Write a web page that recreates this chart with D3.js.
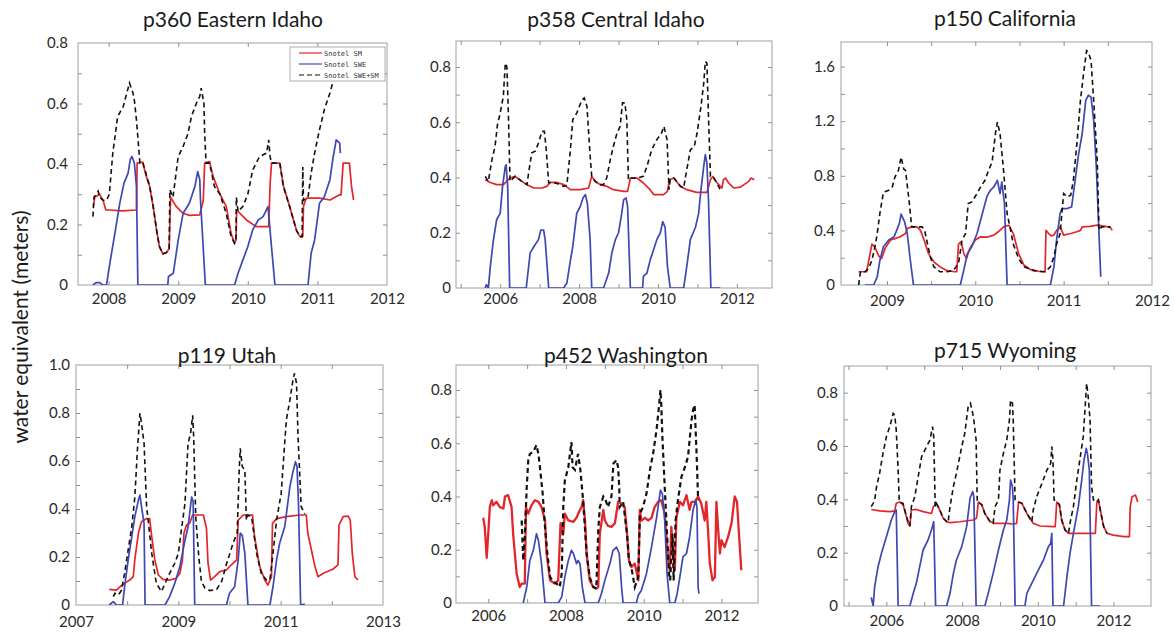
<!DOCTYPE html>
<html><head><meta charset="utf-8">
<script src="https://cdn.jsdelivr.net/npm/d3@7"></script>
<style>body{margin:0;background:#fff;}svg{display:block;font-family:Lato,"Open Sans",sans-serif;}</style>
</head><body><svg id="c" width="1174" height="633"></svg>
<script>
// ---------------- DATA ----------------
const seriesNames = ["Snotel SM", "Snotel SWE", "Snotel SWE+SM"];
const yAxisTitle = "water equivalent (meters)";
const titles = ["p360 Eastern Idaho", "p358 Central Idaho", "p150 California", "p119 Utah", "p452 Washington", "p715 Wyoming"];

const p360_xTicks = [2008, 2009, 2010, 2011, 2012];
const p360_yTicks = [0, 0.2, 0.4, 0.6, 0.8];
const p360_xDomain = [2007.56, 2012];
const p360_yDomain = [0, 0.8];
const p360_sm = [[2007.78,0.26],[2007.80,0.29],[2007.87,0.30],[2007.92,0.28],[2007.96,0.248],[2008.01,0.248],[2008.20,0.245],[2008.40,0.248],[2008.41,0.403],[2008.49,0.406],[2008.54,0.36],[2008.59,0.326],[2008.64,0.26],[2008.69,0.18],[2008.73,0.127],[2008.78,0.103],[2008.83,0.107],[2008.87,0.12],[2008.89,0.29],[2008.97,0.26],[2009.07,0.237],[2009.16,0.23],[2009.31,0.232],[2009.36,0.28],[2009.38,0.403],[2009.45,0.408],[2009.50,0.36],[2009.60,0.30],[2009.69,0.26],[2009.76,0.17],[2009.81,0.138],[2009.83,0.149],[2009.84,0.248],[2009.98,0.215],[2010.12,0.193],[2010.30,0.193],[2010.32,0.33],[2010.34,0.403],[2010.46,0.403],[2010.51,0.33],[2010.60,0.26],[2010.70,0.18],[2010.75,0.16],[2010.79,0.16],[2010.80,0.26],[2010.84,0.287],[2011.03,0.287],[2011.18,0.281],[2011.32,0.298],[2011.34,0.298],[2011.37,0.403],[2011.46,0.403],[2011.49,0.326],[2011.52,0.281]];
const p360_swe = [[2007.775,0],[2007.82,0.008],[2007.87,0.008],[2007.92,0],[2007.97,0],[2008.01,0.061],[2008.09,0.171],[2008.16,0.27],[2008.22,0.336],[2008.28,0.37],[2008.31,0.414],[2008.335,0.425],[2008.37,0.403],[2008.40,0.325],[2008.42,0],[2008.85,0],[2008.86,0.028],[2008.93,0.039],[2009.0,0.149],[2009.07,0.237],[2009.16,0.27],[2009.24,0.326],[2009.28,0.375],[2009.31,0.348],[2009.32,0.281],[2009.39,0],[2009.81,0],[2009.86,0.039],[2009.93,0.083],[2010.0,0.127],[2010.07,0.182],[2010.15,0.215],[2010.22,0.226],[2010.29,0.259],[2010.34,0.127],[2010.39,0],[2010.865,0],[2010.91,0.105],[2010.96,0.149],[2011.03,0.27],[2011.10,0.292],[2011.18,0.348],[2011.22,0.414],[2011.27,0.48],[2011.32,0.469],[2011.33,0.436]];
const p360_total = [[2007.775,0.226],[2007.79,0.29],[2007.82,0.30],[2007.85,0.31],[2007.87,0.29],[2007.92,0.28],[2007.97,0.28],[2008.01,0.30],[2008.06,0.436],[2008.13,0.557],[2008.21,0.59],[2008.30,0.668],[2008.35,0.635],[2008.37,0.61],[2008.40,0.546],[2008.45,0.403],[2008.49,0.406],[2008.59,0.326],[2008.64,0.26],[2008.69,0.18],[2008.73,0.127],[2008.78,0.103],[2008.83,0.107],[2008.87,0.12],[2008.88,0.315],[2008.925,0.29],[2009.0,0.425],[2009.07,0.458],[2009.14,0.50],[2009.19,0.557],[2009.26,0.60],[2009.31,0.624],[2009.33,0.651],[2009.37,0.60],[2009.38,0.50],[2009.40,0.403],[2009.45,0.403],[2009.52,0.326],[2009.60,0.30],[2009.69,0.237],[2009.76,0.16],[2009.81,0.138],[2009.83,0.149],[2009.835,0.29],[2009.86,0.243],[2009.93,0.26],[2010.0,0.30],[2010.07,0.38],[2010.17,0.425],[2010.27,0.436],[2010.30,0.48],[2010.32,0.425],[2010.34,0.403],[2010.46,0.403],[2010.51,0.326],[2010.60,0.26],[2010.70,0.18],[2010.75,0.16],[2010.78,0.16],[2010.79,0.39],[2010.80,0.28],[2010.865,0.29],[2010.91,0.37],[2010.96,0.436],[2011.03,0.513],[2011.10,0.58],[2011.18,0.635],[2011.22,0.668],[2011.27,0.72],[2011.32,0.78]];

const p358_xTicks = [2006, 2008, 2010, 2012];
const p358_yTicks = [0, 0.2, 0.4, 0.6, 0.8];
const p358_xDomain = [2004.88, 2012.89];
const p358_yDomain = [0, 0.894];
const p358_sm = [[2005.62,0.392],[2005.75,0.382],[2005.91,0.374],[2006.08,0.374],[2006.25,0.398],[2006.38,0.404],[2006.55,0.386],[2006.68,0.374],[2006.85,0.362],[2007.06,0.362],[2007.18,0.368],[2007.27,0.382],[2007.44,0.382],[2007.61,0.374],[2007.78,0.356],[2008.03,0.356],[2008.24,0.362],[2008.32,0.404],[2008.41,0.386],[2008.54,0.374],[2008.70,0.368],[2008.87,0.356],[2009.13,0.35],[2009.23,0.35],[2009.30,0.398],[2009.47,0.398],[2009.63,0.38],[2009.80,0.356],[2009.89,0.338],[2010.14,0.338],[2010.24,0.35],[2010.29,0.392],[2010.40,0.398],[2010.57,0.368],[2010.73,0.356],[2010.98,0.346],[2011.24,0.346],[2011.33,0.392],[2011.39,0.404],[2011.49,0.382],[2011.62,0.362],[2011.66,0.392],[2011.71,0.398],[2011.79,0.38],[2011.92,0.362],[2012.09,0.365],[2012.30,0.386],[2012.36,0.398],[2012.44,0.392]];
const p358_swe = [[2005.62,0],[2005.65,0.012],[2005.70,0],[2005.75,0.078],[2005.83,0.175],[2005.91,0.247],[2006.0,0.27],[2006.06,0.368],[2006.13,0.44],[2006.15,0.446],[2006.19,0.368],[2006.24,0],[2006.66,0],[2006.76,0.127],[2006.86,0.151],[2006.97,0.175],[2007.03,0.21],[2007.10,0.21],[2007.14,0.175],[2007.23,0],[2007.61,0],[2007.69,0.018],[2007.78,0.10],[2007.84,0.15],[2007.94,0.27],[2008.03,0.295],[2008.10,0.326],[2008.16,0.338],[2008.21,0.307],[2008.28,0.175],[2008.32,0],[2008.62,0],[2008.75,0.054],[2008.83,0.127],[2008.92,0.175],[2009.0,0.20],[2009.07,0.26],[2009.13,0.32],[2009.19,0.326],[2009.23,0.295],[2009.30,0],[2009.61,0],[2009.63,0.042],[2009.72,0.054],[2009.80,0.10],[2009.89,0.139],[2009.97,0.175],[2010.06,0.20],[2010.12,0.24],[2010.18,0.22],[2010.24,0.078],[2010.31,0],[2010.65,0],[2010.73,0.078],[2010.82,0.175],[2010.95,0.22],[2011.03,0.27],[2011.09,0.356],[2011.16,0.44],[2011.20,0.483],[2011.24,0.452],[2011.28,0.32],[2011.34,0],[2011.58,0]];
const p358_total = [[2005.62,0.404],[2005.70,0.386],[2005.79,0.464],[2005.87,0.513],[2005.93,0.59],[2006.0,0.633],[2006.08,0.694],[2006.13,0.814],[2006.17,0.80],[2006.21,0.62],[2006.25,0.386],[2006.38,0.404],[2006.55,0.386],[2006.68,0.374],[2006.72,0.416],[2006.80,0.489],[2006.89,0.495],[2006.97,0.525],[2007.06,0.567],[2007.12,0.567],[2007.16,0.513],[2007.23,0.38],[2007.27,0.382],[2007.44,0.378],[2007.61,0.368],[2007.69,0.372],[2007.78,0.50],[2007.84,0.61],[2007.94,0.633],[2008.07,0.68],[2008.13,0.688],[2008.20,0.657],[2008.27,0.50],[2008.32,0.404],[2008.41,0.386],[2008.54,0.374],[2008.62,0.374],[2008.70,0.398],[2008.79,0.464],[2008.87,0.513],[2008.96,0.56],[2009.04,0.585],[2009.10,0.67],[2009.16,0.67],[2009.21,0.61],[2009.25,0.392],[2009.30,0.398],[2009.47,0.398],[2009.63,0.404],[2009.72,0.44],[2009.84,0.50],[2009.97,0.537],[2010.09,0.561],[2010.15,0.585],[2010.23,0.537],[2010.28,0.356],[2010.31,0.392],[2010.40,0.398],[2010.57,0.368],[2010.65,0.362],[2010.73,0.428],[2010.82,0.50],[2010.92,0.513],[2010.99,0.56],[2011.09,0.657],[2011.16,0.742],[2011.20,0.82],[2011.24,0.814],[2011.28,0.62],[2011.33,0.404],[2011.39,0.404],[2011.49,0.38],[2011.58,0.356]];

const p150_xTicks = [2009, 2010, 2011, 2012];
const p150_yTicks = [0, 0.4, 0.8, 1.2, 1.6];
const p150_xDomain = [2008.48, 2012.0];
const p150_yDomain = [0, 1.78];
const p150_sm = [[2008.68,0.097],[2008.77,0.097],[2008.83,0.30],[2008.86,0.28],[2008.91,0.21],[2008.94,0.195],[2008.98,0.27],[2009.04,0.33],[2009.09,0.34],[2009.15,0.353],[2009.21,0.377],[2009.23,0.414],[2009.28,0.426],[2009.34,0.426],[2009.38,0.40],[2009.42,0.33],[2009.47,0.23],[2009.53,0.17],[2009.60,0.134],[2009.68,0.105],[2009.77,0.097],[2009.79,0.097],[2009.81,0.30],[2009.84,0.317],[2009.87,0.23],[2009.90,0.195],[2009.94,0.27],[2010.0,0.33],[2010.06,0.353],[2010.13,0.35],[2010.21,0.365],[2010.26,0.39],[2010.32,0.426],[2010.38,0.438],[2010.43,0.377],[2010.49,0.23],[2010.55,0.146],[2010.62,0.114],[2010.74,0.097],[2010.79,0.097],[2010.80,0.40],[2010.83,0.377],[2010.86,0.36],[2010.89,0.365],[2010.92,0.40],[2010.96,0.426],[2011.0,0.365],[2011.08,0.377],[2011.15,0.39],[2011.19,0.40],[2011.21,0.426],[2011.30,0.43],[2011.38,0.438],[2011.47,0.43],[2011.53,0.42],[2011.55,0.40]];
const p150_swe = [[2008.75,0],[2008.85,0],[2008.89,0.06],[2008.92,0.18],[2008.96,0.28],[2009.02,0.33],[2009.08,0.353],[2009.11,0.40],[2009.14,0.45],[2009.16,0.519],[2009.20,0.463],[2009.23,0.377],[2009.26,0.207],[2009.30,0],[2009.83,0],[2009.87,0.11],[2009.91,0.23],[2009.96,0.28],[2010.02,0.377],[2010.08,0.524],[2010.13,0.645],[2010.17,0.694],[2010.21,0.718],[2010.25,0.767],[2010.28,0.67],[2010.30,0.755],[2010.33,0.597],[2010.36,0],[2010.85,0],[2010.89,0.134],[2010.92,0.33],[2010.96,0.524],[2010.98,0.56],[2011.04,0.56],[2011.09,0.572],[2011.13,0.767],[2011.17,0.962],[2011.21,1.108],[2011.25,1.352],[2011.28,1.39],[2011.31,1.376],[2011.34,1.206],[2011.37,0.865],[2011.40,0.377],[2011.42,0.06]];
const p150_total = [[2008.68,0],[2008.70,0.097],[2008.75,0.097],[2008.79,0.12],[2008.83,0.18],[2008.87,0.30],[2008.89,0.377],[2008.92,0.524],[2008.96,0.68],[2009.02,0.694],[2009.06,0.718],[2009.09,0.79],[2009.13,0.84],[2009.16,0.937],[2009.19,0.85],[2009.21,0.84],[2009.25,0.62],[2009.28,0.426],[2009.34,0.426],[2009.40,0.426],[2009.43,0.39],[2009.49,0.207],[2009.53,0.134],[2009.60,0.097],[2009.68,0.097],[2009.75,0.105],[2009.81,0.158],[2009.85,0.33],[2009.89,0.377],[2009.92,0.597],[2009.96,0.609],[2010.02,0.67],[2010.06,0.718],[2010.11,0.767],[2010.15,0.84],[2010.19,0.90],[2010.23,1.12],[2010.25,1.193],[2010.28,1.108],[2010.32,0.84],[2010.36,0.524],[2010.40,0.40],[2010.43,0.30],[2010.49,0.195],[2010.55,0.134],[2010.66,0.105],[2010.79,0.097],[2010.85,0.134],[2010.89,0.207],[2010.92,0.30],[2010.96,0.377],[2011.0,0.67],[2011.04,0.645],[2011.08,0.658],[2011.11,0.767],[2011.15,1.035],[2011.19,1.352],[2011.23,1.571],[2011.26,1.717],[2011.28,1.705],[2011.31,1.644],[2011.34,1.352],[2011.38,0.913],[2011.40,0.40],[2011.43,0.426],[2011.53,0.426]];

const p119_xTicks = [2007, 2009, 2011, 2013];
const p119_yTicks = [0, 0.2, 0.4, 0.6, 0.8, 1.0];
const p119_xDomain = [2007, 2013];
const p119_yDomain = [0, 1.0];
const p119_sm = [[2007.65,0.065],[2007.79,0.062],[2007.86,0.076],[2007.95,0.09],[2008.05,0.104],[2008.12,0.118],[2008.15,0.19],[2008.22,0.30],[2008.28,0.347],[2008.38,0.36],[2008.44,0.36],[2008.48,0.285],[2008.54,0.188],[2008.61,0.125],[2008.70,0.107],[2008.83,0.104],[2008.96,0.111],[2009.03,0.132],[2009.08,0.188],[2009.11,0.30],[2009.16,0.333],[2009.22,0.34],[2009.28,0.375],[2009.49,0.375],[2009.55,0.32],[2009.58,0.174],[2009.63,0.104],[2009.71,0.118],[2009.81,0.139],[2009.94,0.146],[2010.0,0.16],[2010.14,0.188],[2010.17,0.354],[2010.27,0.375],[2010.45,0.375],[2010.49,0.285],[2010.59,0.16],[2010.69,0.104],[2010.75,0.083],[2010.82,0.118],[2010.84,0.34],[2010.92,0.36],[2011.11,0.368],[2011.37,0.375],[2011.50,0.375],[2011.53,0.30],[2011.60,0.23],[2011.67,0.16],[2011.73,0.118],[2011.83,0.132],[2012.02,0.149],[2012.12,0.167],[2012.14,0.333],[2012.22,0.368],[2012.32,0.37],[2012.36,0.354],[2012.40,0.215],[2012.45,0.118],[2012.51,0.104]];
const p119_swe = [[2007.65,0],[2007.73,0.014],[2007.79,0],[2007.91,0],[2007.95,0.076],[2008.02,0.188],[2008.09,0.285],[2008.15,0.368],[2008.22,0.437],[2008.25,0.458],[2008.28,0.41],[2008.33,0.34],[2008.35,0],[2008.74,0],[2008.83,0.035],[2008.93,0.09],[2009.03,0.16],[2009.13,0.27],[2009.19,0.326],[2009.26,0.45],[2009.29,0.43],[2009.32,0],[2009.94,0],[2010.0,0.049],[2010.10,0.076],[2010.17,0.188],[2010.21,0.30],[2010.25,0.29],[2010.30,0.215],[2010.36,0],[2010.79,0],[2010.85,0.076],[2010.92,0.188],[2010.98,0.257],[2011.08,0.326],[2011.18,0.493],[2011.24,0.555],[2011.29,0.597],[2011.32,0.576],[2011.35,0.41],[2011.39,0],[2011.47,0.004]];
const p119_total = [[2007.73,0.035],[2007.76,0.049],[2007.83,0.042],[2007.89,0.062],[2007.95,0.132],[2008.02,0.23],[2008.09,0.326],[2008.15,0.45],[2008.20,0.646],[2008.25,0.80],[2008.28,0.757],[2008.33,0.674],[2008.38,0.41],[2008.41,0.354],[2008.48,0.215],[2008.57,0.09],[2008.67,0.056],[2008.74,0.09],[2008.83,0.132],[2008.93,0.174],[2009.0,0.215],[2009.06,0.313],[2009.13,0.424],[2009.19,0.674],[2009.24,0.715],[2009.28,0.79],[2009.30,0.70],[2009.34,0.368],[2009.40,0.20],[2009.45,0.10],[2009.52,0.07],[2009.62,0.06],[2009.75,0.065],[2009.85,0.10],[2009.94,0.17],[2010.07,0.257],[2010.15,0.30],[2010.19,0.563],[2010.21,0.653],[2010.25,0.576],[2010.30,0.563],[2010.33,0.354],[2010.36,0.375],[2010.43,0.368],[2010.53,0.215],[2010.62,0.132],[2010.72,0.104],[2010.79,0.104],[2010.85,0.215],[2010.92,0.354],[2011.01,0.465],[2011.11,0.77],[2011.18,0.854],[2011.24,0.937],[2011.27,0.965],[2011.31,0.924],[2011.34,0.70],[2011.40,0.41],[2011.47,0.38]];

const p452_xTicks = [2006, 2008, 2010, 2012];
const p452_yTicks = [0, 0.2, 0.4, 0.6, 0.8];
const p452_xDomain = [2005.17, 2012.94];
const p452_yDomain = [0, 0.894];
const p452_sm = [[2005.87,0.32],[2005.91,0.286],[2005.96,0.17],[2006.0,0.26],[2006.04,0.36],[2006.09,0.386],[2006.13,0.367],[2006.21,0.38],[2006.30,0.36],[2006.39,0.355],[2006.43,0.40],[2006.51,0.405],[2006.60,0.36],[2006.64,0.26],[2006.73,0.11],[2006.81,0.06],[2006.86,0.073],[2006.94,0.073],[2006.97,0.36],[2007.03,0.336],[2007.11,0.367],[2007.20,0.386],[2007.29,0.38],[2007.37,0.36],[2007.46,0.31],[2007.50,0.186],[2007.59,0.085],[2007.71,0.073],[2007.80,0.085],[2007.86,0.30],[2007.93,0.26],[2007.97,0.336],[2008.06,0.31],[2008.19,0.305],[2008.27,0.32],[2008.36,0.35],[2008.40,0.36],[2008.44,0.386],[2008.49,0.31],[2008.53,0.186],[2008.61,0.085],[2008.70,0.06],[2008.78,0.054],[2008.83,0.06],[2008.87,0.26],[2008.96,0.35],[2009.0,0.31],[2009.08,0.29],[2009.17,0.286],[2009.26,0.30],[2009.34,0.38],[2009.43,0.374],[2009.51,0.36],[2009.57,0.26],[2009.62,0.16],[2009.68,0.135],[2009.77,0.148],[2009.86,0.085],[2009.90,0.35],[2009.94,0.31],[2010.03,0.32],[2010.11,0.31],[2010.20,0.32],[2010.28,0.36],[2010.37,0.38],[2010.45,0.386],[2010.54,0.336],[2010.58,0.26],[2010.63,0.16],[2010.67,0.123],[2010.71,0.286],[2010.76,0.186],[2010.80,0.123],[2010.84,0.32],[2010.93,0.38],[2011.01,0.367],[2011.10,0.405],[2011.18,0.35],[2011.23,0.38],[2011.31,0.38],[2011.40,0.40],[2011.48,0.374],[2011.57,0.31],[2011.61,0.38],[2011.66,0.26],[2011.70,0.148],[2011.77,0.085],[2011.83,0.098],[2011.87,0.38],[2011.91,0.286],[2011.96,0.186],[2012.0,0.236],[2012.08,0.21],[2012.17,0.248],[2012.26,0.30],[2012.34,0.40],[2012.40,0.38],[2012.45,0.26],[2012.51,0.123]];
const p452_swe = [[2006.90,0],[2006.99,0.06],[2007.07,0.16],[2007.16,0.198],[2007.24,0.26],[2007.29,0.236],[2007.37,0.148],[2007.46,0],[2007.80,0],[2007.89,0.023],[2007.97,0.098],[2008.06,0.16],[2008.14,0.198],[2008.19,0.186],[2008.27,0.148],[2008.31,0.16],[2008.36,0.148],[2008.42,0.06],[2008.49,0],[2008.83,0],[2008.91,0.035],[2009.0,0.085],[2009.13,0.148],[2009.21,0.198],[2009.30,0.21],[2009.37,0.186],[2009.43,0.06],[2009.47,0],[2009.81,0],[2009.86,0.029],[2009.94,0.048],[2010.07,0.11],[2010.20,0.21],[2010.33,0.32],[2010.43,0.424],[2010.48,0.41],[2010.54,0.31],[2010.60,0.11],[2010.67,0],[2010.80,0],[2010.86,0.035],[2010.93,0.098],[2011.01,0.173],[2011.10,0.186],[2011.18,0.248],[2011.27,0.35],[2011.34,0.386],[2011.37,0.36],[2011.40,0.06],[2011.42,0.035]];
const p452_total = [[2006.86,0.31],[2006.90,0.16],[2006.94,0.248],[2006.99,0.436],[2007.03,0.537],[2007.07,0.56],[2007.16,0.568],[2007.24,0.593],[2007.29,0.56],[2007.33,0.51],[2007.40,0.41],[2007.46,0.286],[2007.52,0.186],[2007.59,0.098],[2007.67,0.079],[2007.76,0.073],[2007.84,0.06],[2007.89,0.11],[2007.93,0.36],[2007.97,0.46],[2008.06,0.51],[2008.14,0.605],[2008.17,0.51],[2008.23,0.50],[2008.31,0.56],[2008.37,0.50],[2008.44,0.386],[2008.53,0.186],[2008.61,0.098],[2008.70,0.06],[2008.78,0.054],[2008.83,0.273],[2008.87,0.36],[2008.96,0.40],[2009.02,0.386],[2009.08,0.36],[2009.17,0.40],[2009.22,0.524],[2009.30,0.537],[2009.34,0.51],[2009.37,0.436],[2009.38,0.36],[2009.47,0.38],[2009.57,0.26],[2009.62,0.16],[2009.68,0.135],[2009.77,0.06],[2009.86,0.098],[2009.90,0.336],[2009.98,0.36],[2010.07,0.41],[2010.16,0.50],[2010.24,0.56],[2010.33,0.65],[2010.40,0.75],[2010.43,0.80],[2010.45,0.75],[2010.48,0.624],[2010.54,0.436],[2010.60,0.26],[2010.65,0.11],[2010.68,0.085],[2010.74,0.26],[2010.77,0.085],[2010.82,0.31],[2010.88,0.386],[2010.97,0.474],[2011.06,0.51],[2011.14,0.55],[2011.23,0.687],[2011.27,0.725],[2011.31,0.744],[2011.36,0.56],[2011.40,0.386]];

const p715_xTicks = [2006, 2008, 2010, 2012];
const p715_yTicks = [0, 0.2, 0.4, 0.6, 0.8];
const p715_xDomain = [2004.88, 2012.99];
const p715_yDomain = [0, 0.9];
const p715_sm = [[2005.60,0.362],[2005.82,0.357],[2006.09,0.354],[2006.22,0.357],[2006.26,0.385],[2006.35,0.39],[2006.44,0.38],[2006.53,0.335],[2006.57,0.31],[2006.62,0.30],[2006.66,0.36],[2006.79,0.362],[2006.97,0.354],[2007.19,0.347],[2007.24,0.372],[2007.32,0.385],[2007.41,0.36],[2007.50,0.329],[2007.59,0.316],[2007.68,0.3125],[2007.94,0.316],[2008.29,0.3225],[2008.38,0.329],[2008.43,0.39],[2008.52,0.38],[2008.60,0.347],[2008.74,0.316],[2008.87,0.31],[2009.18,0.31],[2009.35,0.3075],[2009.44,0.31],[2009.49,0.39],[2009.58,0.385],[2009.71,0.347],[2009.88,0.31],[2010.06,0.30],[2010.41,0.2975],[2010.46,0.2975],[2010.50,0.39],[2010.57,0.38],[2010.63,0.3225],[2010.72,0.285],[2010.81,0.2725],[2010.94,0.2725],[2011.29,0.2725],[2011.52,0.2725],[2011.56,0.39],[2011.60,0.3975],[2011.65,0.36],[2011.74,0.2975],[2011.83,0.2725],[2012.0,0.266],[2012.27,0.26],[2012.42,0.26],[2012.44,0.372],[2012.49,0.41],[2012.58,0.416],[2012.64,0.39]];
const p715_swe = [[2005.60,0.0325],[2005.65,0],[2005.69,0.0725],[2005.78,0.1475],[2005.87,0.1975],[2006.0,0.26],[2006.13,0.3225],[2006.22,0.354],[2006.26,0.36],[2006.31,0],[2006.62,0],[2006.71,0.0475],[2006.79,0.085],[2006.88,0.1475],[2006.97,0.21],[2007.10,0.2475],[2007.19,0.285],[2007.25,0.316],[2007.30,0],[2007.59,0],[2007.68,0.0475],[2007.77,0.1225],[2007.85,0.1725],[2007.99,0.2225],[2008.12,0.2975],[2008.21,0.404],[2008.28,0.429],[2008.31,0.41],[2008.37,0],[2008.60,0],[2008.69,0.0475],[2008.82,0.1225],[2008.96,0.21],[2009.09,0.285],[2009.18,0.3225],[2009.25,0.3975],[2009.28,0.4725],[2009.33,0.4475],[2009.35,0.3975],[2009.40,0],[2009.66,0],[2009.71,0.0475],[2009.84,0.085],[2009.97,0.1225],[2010.15,0.1725],[2010.28,0.2225],[2010.34,0.235],[2010.37,0.2725],[2010.40,0],[2010.68,0],[2010.77,0.11],[2010.85,0.1975],[2010.94,0.2725],[2011.07,0.3725],[2011.16,0.4725],[2011.22,0.5475],[2011.28,0.591],[2011.31,0.5725],[2011.36,0.51],[2011.42,0],[2011.65,0]];
const p715_total = [[2005.60,0.3725],[2005.65,0.385],[2005.69,0.3975],[2005.74,0.4475],[2005.82,0.4975],[2005.91,0.5725],[2006.0,0.635],[2006.09,0.6725],[2006.18,0.7225],[2006.22,0.716],[2006.26,0.66],[2006.31,0.51],[2006.34,0.39],[2006.44,0.385],[2006.53,0.335],[2006.62,0.30],[2006.66,0.3725],[2006.75,0.41],[2006.84,0.485],[2006.93,0.56],[2007.06,0.5975],[2007.15,0.6225],[2007.22,0.6725],[2007.25,0.635],[2007.29,0.3725],[2007.32,0.385],[2007.41,0.36],[2007.50,0.329],[2007.63,0.3125],[2007.68,0.3725],[2007.77,0.4475],[2007.85,0.4975],[2007.99,0.5975],[2008.07,0.6475],[2008.16,0.7475],[2008.22,0.76],[2008.28,0.7225],[2008.31,0.6975],[2008.37,0.6225],[2008.40,0.39],[2008.52,0.38],[2008.60,0.347],[2008.74,0.316],[2008.82,0.31],[2008.87,0.3725],[2008.96,0.3975],[2009.0,0.51],[2009.09,0.5725],[2009.18,0.6225],[2009.25,0.6975],[2009.28,0.7725],[2009.33,0.76],[2009.35,0.6975],[2009.40,0.3975],[2009.49,0.39],[2009.58,0.385],[2009.71,0.347],[2009.84,0.316],[2009.88,0.36],[2009.97,0.41],[2010.11,0.46],[2010.24,0.51],[2010.34,0.535],[2010.37,0.5975],[2010.40,0.5475],[2010.43,0.3975],[2010.50,0.39],[2010.57,0.38],[2010.63,0.3225],[2010.72,0.285],[2010.81,0.2725],[2010.85,0.31],[2010.94,0.3725],[2011.03,0.4725],[2011.11,0.5475],[2011.20,0.635],[2011.24,0.7225],[2011.29,0.835],[2011.33,0.785],[2011.38,0.6975],[2011.42,0.4475],[2011.47,0.3975],[2011.56,0.39],[2011.60,0.3975],[2011.65,0.36],[2011.74,0.2975],[2011.83,0.2725]];

// ------------- LAYOUT (positions / styles) -------------
const layout = [
  {l:78,  t:43,  r:387,  b:285, tx:233,  ty:27,  ypad:10, xpad:8,  xMinor:1,   yMinor:0.1, sw:1.7},
  {l:456, t:41,  r:772,  b:288, tx:616,  ty:27,  ypad:5,  xpad:5,  xMinor:1,   yMinor:0.1, sw:1.7},
  {l:841, t:42,  r:1152, b:285, tx:1005, ty:26,  ypad:6,  xpad:10, xMinor:0.5, yMinor:0.2, sw:1.7},
  {l:76,  t:365, r:383,  b:605, tx:227,  ty:363, ypad:6,  xpad:11, xMinor:1,   yMinor:0.1, sw:1.7},
  {l:456, t:365, r:758,  b:603, tx:626,  ty:363, ypad:4,  xpad:7,  xMinor:1,   yMinor:0.1, sw:2.3},
  {l:844, t:366, r:1151, b:606, tx:1005, ty:358, ypad:6,  xpad:9,  xMinor:1,   yMinor:0.1, sw:1.7}
];
const panels = [
  {sm:p360_sm, swe:p360_swe, tot:p360_total, xt:p360_xTicks, yt:p360_yTicks, xd:p360_xDomain, yd:p360_yDomain},
  {sm:p358_sm, swe:p358_swe, tot:p358_total, xt:p358_xTicks, yt:p358_yTicks, xd:p358_xDomain, yd:p358_yDomain},
  {sm:p150_sm, swe:p150_swe, tot:p150_total, xt:p150_xTicks, yt:p150_yTicks, xd:p150_xDomain, yd:p150_yDomain},
  {sm:p119_sm, swe:p119_swe, tot:p119_total, xt:p119_xTicks, yt:p119_yTicks, xd:p119_xDomain, yd:p119_yDomain},
  {sm:p452_sm, swe:p452_swe, tot:p452_total, xt:p452_xTicks, yt:p452_yTicks, xd:p452_xDomain, yd:p452_yDomain},
  {sm:p715_sm, swe:p715_swe, tot:p715_total, xt:p715_xTicks, yt:p715_yTicks, xd:p715_xDomain, yd:p715_yDomain}
];
const RED = "#e3262b", BLUE = "#3f48b2", BLACK = "#111";

const svg = d3.select("#c");
svg.append("rect").attr("width",1174).attr("height",633).attr("fill","#fff");

const yfmt = d => d === 0 ? "0" : d3.format(".1f")(d);

panels.forEach((p, i) => {
  const L = layout[i];
  const x = d3.scaleLinear().domain(p.xd).range([L.l, L.r]);
  const y = d3.scaleLinear().domain(p.yd).range([L.b, L.t]);
  const g = svg.append("g");

  g.append("rect").attr("x",L.l).attr("y",L.t).attr("width",L.r-L.l).attr("height",L.b-L.t)
    .attr("fill","none").attr("stroke","#a0a0a0").attr("stroke-width",1);

  const xm = d3.range(Math.ceil(p.xd[0]/L.xMinor)*L.xMinor, p.xd[1]+1e-6, L.xMinor).filter(v => v > p.xd[0]+0.02 && v < p.xd[1]-0.02);
  const ym = d3.range(0, p.yd[1]+1e-6, L.yMinor).filter(v => v > 0.001 && v < p.yd[1]-0.005);
  const tk = sel => { sel.select(".domain").remove(); sel.selectAll("line").attr("stroke","#909090"); };
  g.append("g").attr("transform",`translate(0,${L.b})`).call(d3.axisBottom(x).tickValues(xm).tickSize(-4).tickFormat("")).call(tk);
  g.append("g").attr("transform",`translate(0,${L.t})`).call(d3.axisTop(x).tickValues(xm).tickSize(-4).tickFormat("")).call(tk);
  g.append("g").attr("transform",`translate(${L.l},0)`).call(d3.axisLeft(y).tickValues(ym).tickSize(-4).tickFormat("")).call(tk);
  g.append("g").attr("transform",`translate(${L.r},0)`).call(d3.axisRight(y).tickValues(ym).tickSize(-4).tickFormat("")).call(tk);

  const lab = sel => { sel.select(".domain").remove(); sel.selectAll("text").attr("fill","#2a2a2a").style("font-size","15px").style("font-family","Lato, 'Open Sans', sans-serif"); };
  g.append("g").attr("transform",`translate(0,${L.b})`).call(d3.axisBottom(x).tickValues(p.xt).tickSize(0).tickPadding(L.xpad).tickFormat(d3.format("d"))).call(lab);
  g.append("g").attr("transform",`translate(${L.l},0)`).call(d3.axisLeft(y).tickValues(p.yt).tickSize(0).tickPadding(L.ypad).tickFormat(yfmt)).call(lab);

  const cid = "clip"+i;
  svg.append("clipPath").attr("id",cid).append("rect").attr("x",L.l).attr("y",L.t).attr("width",L.r-L.l).attr("height",L.b-L.t);
  const line = d3.line().x(d => x(d[0])).y(d => y(d[1]));
  const pl = g.append("g").attr("clip-path",`url(#${cid})`);
  pl.append("path").datum(p.sm).attr("d",line).attr("fill","none").attr("stroke",RED).attr("stroke-width",L.sw).attr("stroke-linejoin","round");
  pl.append("path").datum(p.swe).attr("d",line).attr("fill","none").attr("stroke",BLUE).attr("stroke-width",1.7).attr("stroke-linejoin","round");
  pl.append("path").datum(p.tot).attr("d",line).attr("fill","none").attr("stroke",BLACK).attr("stroke-width",L.sw - 0.1).attr("stroke-dasharray","5,3.5");

  svg.append("text").attr("x",L.tx).attr("y",L.ty).attr("text-anchor","middle")
    .style("font-size","21px").attr("fill","#1a1a1a").text(titles[i]);
});

// legend in first panel
const lg = svg.append("g");
lg.append("rect").attr("x",290).attr("y",47).attr("width",95).attr("height",34).attr("fill","#fff").attr("stroke","#9a9a9a").attr("stroke-width",0.8);
const legColors = [RED, BLUE, BLACK];
seriesNames.forEach((n, k) => {
  const yy = 53 + k*11;
  lg.append("line").attr("x1",299).attr("x2",322).attr("y1",yy).attr("y2",yy)
    .attr("stroke",legColors[k]).attr("stroke-width",1.2).attr("stroke-dasharray", k===2 ? "5,3" : null);
  lg.append("text").attr("x",324).attr("y",yy+2.5).style("font-size","7px").style("font-family","'DejaVu Sans Mono', monospace").attr("fill","#333").text(n);
});

// shared y-axis title
svg.append("text").attr("transform","translate(28,327) rotate(-90)").attr("text-anchor","middle")
  .style("font-size","21px").attr("fill","#1a1a1a").text(yAxisTitle);
</script></body></html>
